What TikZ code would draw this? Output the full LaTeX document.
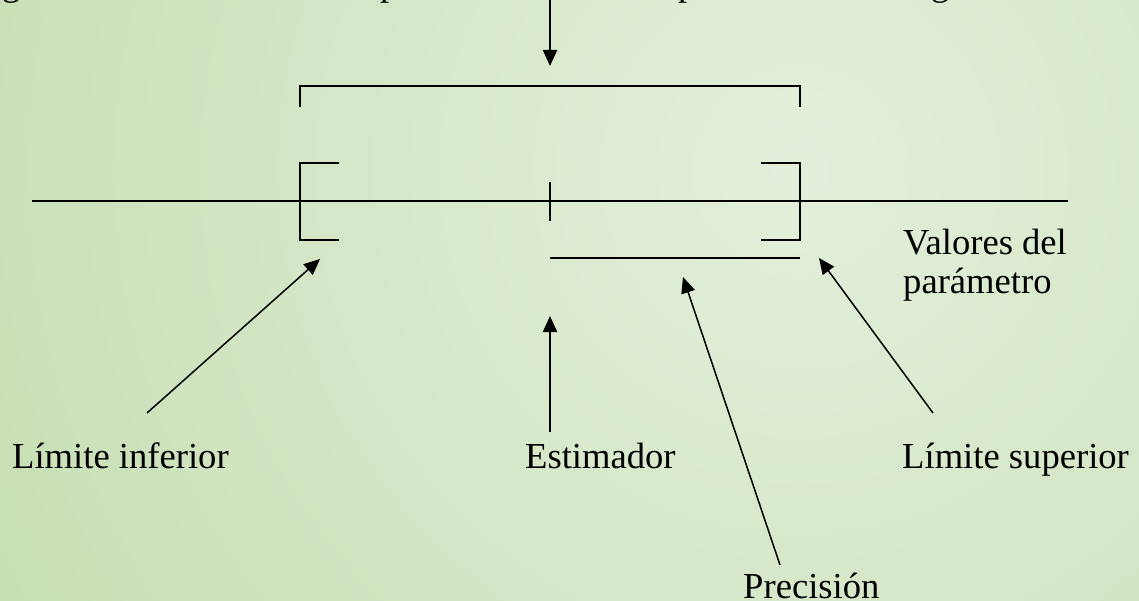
\documentclass[tikz,border=0pt]{standalone}
\usepackage{fontspec}
\setmainfont{Liberation Serif}
\usetikzlibrary{arrows.meta}

\definecolor{bglight}{RGB}{228,239,219}
\definecolor{bgdark}{RGB}{164,204,133}
\pgfdeclareradialshading{bgglow}{\pgfpoint{0bp}{0bp}}{%
  color(0bp)=(bglight); color(50bp)=(bgdark)}

\tikzset{
  axisline/.style={line width=2.3pt, line cap=butt},
  pointer/.style={line width=1.5pt, -{Triangle[length=16pt,width=14pt]}},
  label/.style={inner sep=0pt, anchor=base west, font=\fontsize{36.6}{39}\selectfont},
}

\begin{document}
\begin{tikzpicture}[x=1pt, y=-1pt]
  % page frame and soft green background
  \useasboundingbox (0,0) rectangle (1139,601);
  \begin{scope}
    \clip (0,0) rectangle (1139,601);
    \shade[shading=bgglow] (800,170) circle (1000);
    % bottoms of the heading line, cut off by the top edge
    \node[label] (hg1) at (2,-4) {g};
    \node[label] (hp1) at (380,-4) {p};
    \node[label] (hp2) at (678,-4) {p};
    \node[label] (hg2) at (931,-4) {g};
  \end{scope}

  % parameter axis
  \draw[axisline] (32,201) -- (1068,201);
  % estimate tick
  \draw[axisline] (550,182) -- (550,221);
  % lower limit bracket
  \draw[axisline] (339,163) -- (300,163) -- (300,240) -- (339,240);
  % upper limit bracket
  \draw[axisline] (761,163) -- (800,163) -- (800,240) -- (761,240);
  % interval bracket above the axis
  \draw[axisline] (300,107) -- (300,86) -- (800,86) -- (800,107);
  % precision segment
  \draw[axisline] (550,258) -- (800,258);

  % labels
  \node[label] (limInf) at (12,468) {Límite inferior};
  \node[label] (estim) at (525,468) {Estimador};
  \node[label] (limSup) at (902,468) {Límite superior};
  \node[label] (prec) at (743,598) {Precisión};
  \node[label, anchor=north west, align=left] (valores) at (903,229)
    {Valores del\\parámetro};

  % arrow ends
  \coordinate (topFrom) at (550,-5);
  \coordinate (topTip) at (550,66);
  \coordinate (infFrom) at (147,413);
  \coordinate (infTip) at (320,259);
  \coordinate (estFrom) at (550,432);
  \coordinate (estTip) at (550,316);
  \coordinate (precFrom) at (780,565);
  \coordinate (precTip) at (683,277);
  \coordinate (supFrom) at (933,413);
  \coordinate (supTip) at (819,258);

  \draw[pointer, line width=2.2pt] (topFrom) -- (topTip);
  \draw[pointer] (infFrom) -- (infTip);
  \draw[pointer, line width=2pt] (estFrom) -- (estTip);
  \draw[pointer] (precFrom) -- (precTip);
  \draw[pointer] (supFrom) -- (supTip);
\end{tikzpicture}
\end{document}
